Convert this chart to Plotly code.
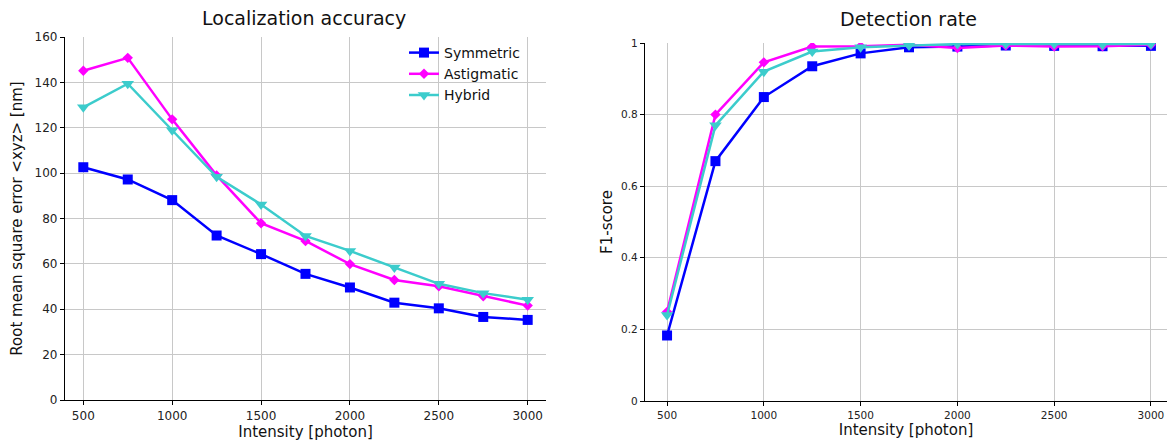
import plotly.graph_objects as go

intensity = [500, 750, 1000, 1250, 1500, 1750, 2000, 2250, 2500, 2750, 3000]

rmse_symmetric = [102.6, 97.2, 88.1, 72.5, 64.3, 55.6, 49.6, 42.9, 40.4, 36.6, 35.3]
rmse_astigmatic = [145.1, 150.8, 123.7, 99.0, 77.9, 70.1, 59.9, 52.9, 50.1, 45.7, 41.6]
rmse_hybrid = [129.0, 139.4, 118.9, 98.4, 86.2, 72.3, 65.7, 58.4, 51.2, 47.1, 44.2]

f1_symmetric = [0.183, 0.670, 0.849, 0.935, 0.971, 0.988, 0.990, 0.993, 0.992, 0.991, 0.992]
f1_astigmatic = [0.249, 0.800, 0.946, 0.990, 0.991, 0.995, 0.986, 0.993, 0.990, 0.991, 0.995]
f1_hybrid = [0.240, 0.770, 0.920, 0.976, 0.988, 0.993, 0.997, 0.997, 0.997, 0.995, 0.997]

x_ticks = [500, 1000, 1500, 2000, 2500, 3000]
rmse_ticks = [0, 20, 40, 60, 80, 100, 120, 140, 160]
f1_ticks = [0, 0.2, 0.4, 0.6, 0.8, 1.0]
f1_ticklabels = ["0", "0.2", "0.4", "0.6", "0.8", "1"]

names = ["Symmetric", "Astigmatic", "Hybrid"]
colors = ["#0000ff", "#ff00ff", "#3ccccc"]
symbols = ["square", "diamond", "triangle-down"]
msizes = [10, 8, 11]

FONT = "DejaVu Sans"
fig = go.Figure()

for i, ys in enumerate([rmse_symmetric, rmse_astigmatic, rmse_hybrid]):
    fig.add_trace(go.Scatter(x=intensity, y=ys, name=names[i], mode="lines+markers",
                             line=dict(color=colors[i], width=2.5),
                             marker=dict(symbol=symbols[i], size=msizes[i], color=colors[i]),
                             xaxis="x", yaxis="y", showlegend=True, legendgroup=names[i]))
for i, ys in enumerate([f1_symmetric, f1_astigmatic, f1_hybrid]):
    fig.add_trace(go.Scatter(x=intensity, y=ys, name=names[i], mode="lines+markers",
                             line=dict(color=colors[i], width=2.5),
                             marker=dict(symbol=symbols[i], size=msizes[i], color=colors[i]),
                             xaxis="x2", yaxis="y2", showlegend=False, legendgroup=names[i]))

axis_common = dict(showline=True, linecolor="black", linewidth=1.2, ticks="outside",
                   ticklen=4, tickcolor="black", showgrid=True, gridcolor="#c8c8c8",
                   gridwidth=1, zeroline=False, mirror=False, automargin=False,
                   tickfont=dict(family=FONT, size=12, color="#222"))
small_ticks = {**axis_common, "tickfont": dict(family=FONT, size=10.5, color="#222")}

fig.update_layout(
    width=1167, height=444,
    margin=dict(l=0, r=0, t=0, b=0, autoexpand=False),
    paper_bgcolor="white", plot_bgcolor="white",
    font=dict(family=FONT, color="#111"),
    xaxis=dict(domain=[65 / 1167, 546 / 1167], range=[397, 3103], tickvals=x_ticks,
               anchor="y",
               title=dict(text="Intensity [photon]", font=dict(size=15, family=FONT), standoff=4),
               **axis_common),
    yaxis=dict(domain=[44 / 444, 407 / 444], range=[0, 160], tickvals=rmse_ticks,
               anchor="x",
               title=dict(text="Root mean square error <xyz> [nm]", font=dict(size=15, family=FONT), standoff=8),
               **axis_common),
    xaxis2=dict(domain=[645 / 1167, 1.0], range=[386, 3083], tickvals=x_ticks,
                anchor="y2",
                title=dict(text="Intensity [photon]", font=dict(size=15, family=FONT), standoff=4),
                **small_ticks),
    yaxis2=dict(domain=[43 / 444, 401 / 444], range=[0, 1], tickvals=f1_ticks,
                ticktext=f1_ticklabels, anchor="x2",
                title=dict(text="F1-score", font=dict(size=15, family=FONT), standoff=4),
                **small_ticks),
    legend=dict(x=404 / 1167, y=1 - 37 / 444, xanchor="left", yanchor="top",
                bgcolor="rgba(255,255,255,0)", font=dict(size=14, family=FONT, color="#111"),
                tracegroupgap=0, itemwidth=30),
    annotations=[
        dict(text="Localization accuracy", x=304 / 1167, y=1 - 18 / 444, xref="paper", yref="paper",
             showarrow=False, font=dict(size=19, family=FONT, color="#111"), xanchor="center", yanchor="middle"),
        dict(text="Detection rate", x=908 / 1167, y=1 - 19 / 444, xref="paper", yref="paper",
             showarrow=False, font=dict(size=19, family=FONT, color="#111"), xanchor="center", yanchor="middle"),
    ],
)

fig.write_html("out.html")
